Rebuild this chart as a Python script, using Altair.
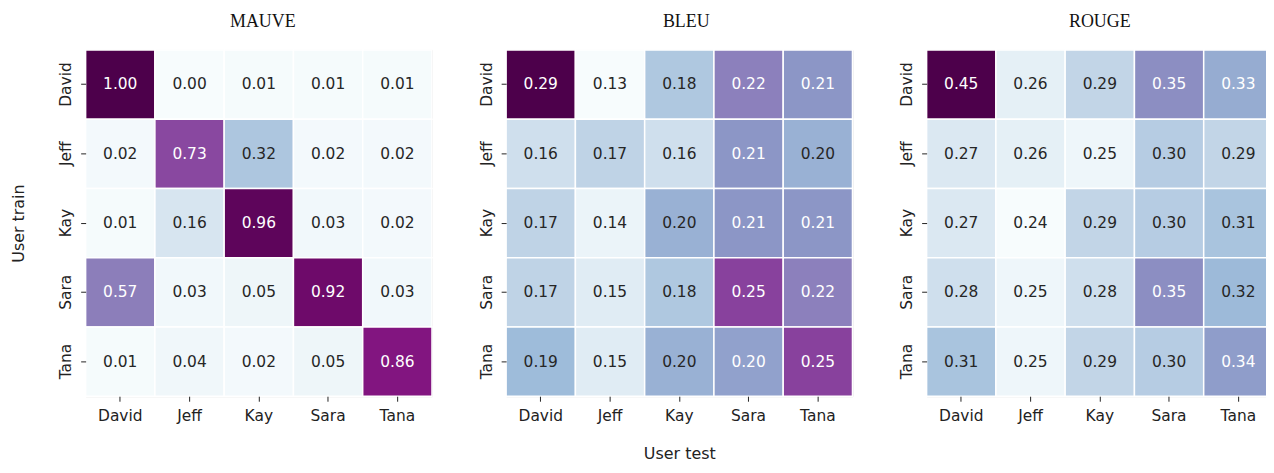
import altair as alt
import numpy as np
import pandas as pd

names = ["David", "Jeff", "Kay", "Sara", "Tana"]
titles = ["MAUVE", "BLEU", "ROUGE"]
title_dx = [4, 7, 0]

mauve = [
    [1.00, 0.00, 0.01, 0.01, 0.01],
    [0.02, 0.73, 0.32, 0.02, 0.02],
    [0.01, 0.16, 0.96, 0.03, 0.02],
    [0.57, 0.03, 0.05, 0.92, 0.03],
    [0.01, 0.04, 0.02, 0.05, 0.86],
]
bleu = [
    [0.29, 0.13, 0.18, 0.22, 0.21],
    [0.16, 0.17, 0.16, 0.21, 0.196],
    [0.17, 0.14, 0.196, 0.21, 0.21],
    [0.17, 0.15, 0.18, 0.25, 0.22],
    [0.19, 0.15, 0.196, 0.204, 0.25],
]
rouge = [
    [0.45, 0.26, 0.29, 0.35, 0.33],
    [0.27, 0.26, 0.25, 0.30, 0.29],
    [0.27, 0.24, 0.29, 0.30, 0.31],
    [0.28, 0.25, 0.28, 0.35, 0.32],
    [0.31, 0.25, 0.29, 0.30, 0.34],
]
matrices = [mauve, bleu, rouge]

# matplotlib BuPu colormap stops
bupu = ["#f7fcfd", "#e0ecf4", "#bfd3e6", "#9ebcda", "#8c96c6",
        "#8c6bb1", "#88419d", "#810f7c", "#4d004b"]

W, H = 348, 348
LABEL_FONT = "DejaVu Sans"
FS = 15.5


def panel(idx):
    mat = matrices[idx]
    rows = []
    for i, tr in enumerate(names):
        for j, te in enumerate(names):
            rows.append({"train": tr, "test": te, "value": mat[i][j]})
    df = pd.DataFrame(rows)
    vmin, vmax = float(df["value"].min()), float(df["value"].max())
    dom = [float(v) for v in np.linspace(vmin, vmax, len(bupu))]

    y_title = "User train" if idx == 0 else None
    x_title = "User test" if idx == 1 else None

    xaxis_kwargs = dict(labelAngle=0, domain=False, tickSize=5, tickColor="#222222",
                        labelFont=LABEL_FONT, labelFontSize=FS, labelColor="#222222",
                        labelPadding=7)
    if x_title:
        xaxis = alt.Axis(title=x_title, titleFont=LABEL_FONT, titleFontSize=16,
                         titleFontWeight="normal", titleColor="#222222",
                         titlePadding=22, **xaxis_kwargs)
    else:
        xaxis = alt.Axis(title=None, **xaxis_kwargs)
    xenc = alt.X("test:N", sort=names,
                 scale=alt.Scale(paddingInner=0, paddingOuter=0), axis=xaxis)

    yaxis_kwargs = dict(labelAngle=270, labelAlign="center", labelBaseline="bottom",
                        domain=False, tickSize=5, tickColor="#222222",
                        labelFont=LABEL_FONT, labelFontSize=FS, labelColor="#222222",
                        labelPadding=7)
    if y_title:
        yaxis = alt.Axis(title=y_title, titleFont=LABEL_FONT, titleFontSize=16,
                         titleFontWeight="normal", titleColor="#222222",
                         titlePadding=32, **yaxis_kwargs)
    else:
        yaxis = alt.Axis(title=None, **yaxis_kwargs)
    yenc = alt.Y("train:N", sort=names,
                 scale=alt.Scale(paddingInner=0, paddingOuter=0), axis=yaxis)

    base = alt.Chart(df).encode(x=xenc, y=yenc)
    rect = base.mark_rect(stroke="white", strokeWidth=1.5).encode(
        color=alt.Color("value:Q",
                        scale=alt.Scale(type="linear", domain=dom, range=bupu,
                                        interpolate="rgb"),
                        legend=None)
    )
    text = base.transform_joinaggregate(
        vmin="min(value)", vmax="max(value)"
    ).transform_calculate(
        norm="(datum.value - datum.vmin) / (datum.vmax - datum.vmin)"
    ).mark_text(font=LABEL_FONT, fontSize=FS, baseline="middle").encode(
        text=alt.Text("value:Q", format=".2f"),
        color=alt.condition("datum.norm > 0.42", alt.value("white"), alt.value("#262626")),
    )
    return alt.layer(rect, text).properties(
        width=W, height=H,
        title=alt.TitleParams(titles[idx], font="Liberation Serif", fontSize=18,
                              fontWeight="normal", color="#111111", offset=18,
                              dx=title_dx[idx]),
    )


chart = alt.hconcat(panel(0), panel(1), panel(2), spacing=44.5).resolve_scale(
    color="independent"
).properties(
    padding={"left": 2, "top": 3, "right": -9, "bottom": 0}
).configure_view(stroke=None).configure(background="white")

chart.save("out.html", embed_options={"renderer": "svg", "actions": False})
